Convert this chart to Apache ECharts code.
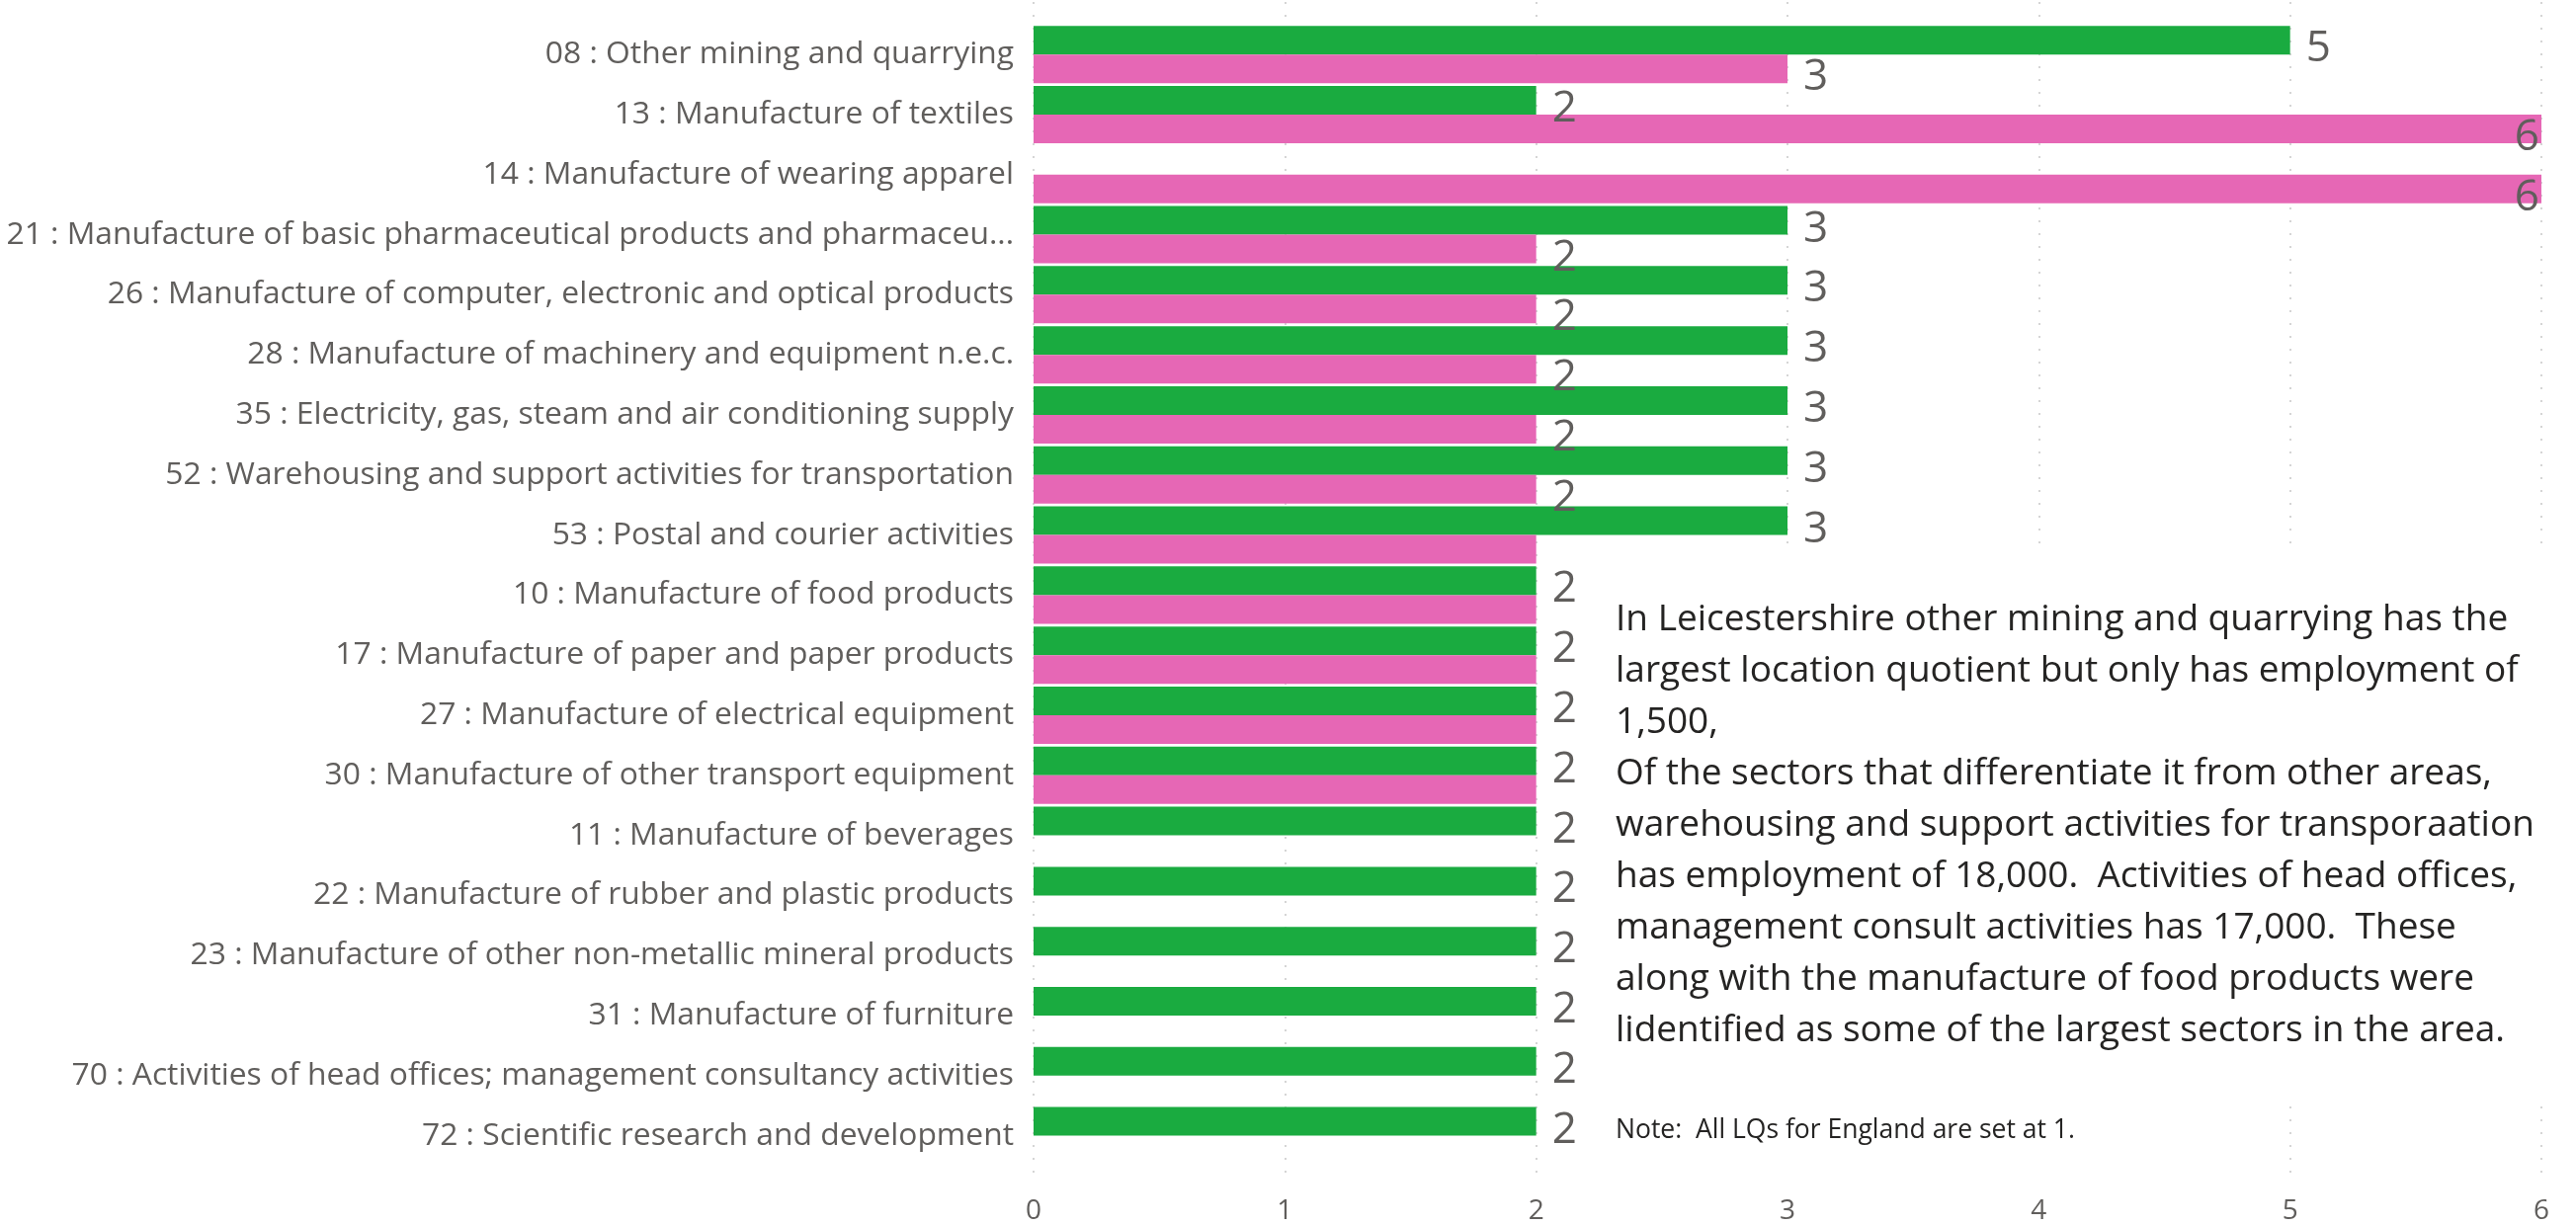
<!DOCTYPE html>
<html>
<head>
<meta charset="utf-8">
<script src="https://cdn.jsdelivr.net/npm/echarts@6/dist/echarts.min.js"></script>
<style>
  html, body { margin: 0; padding: 0; background: #fff; }
  #chart { width: 2607px; height: 1241px; }
</style>
</head>
<body>
<div id="chart"></div>
<script>
// sectors, top to bottom
const sectors = [
  '08 : Other mining and quarrying',
  '13 : Manufacture of textiles',
  '14 : Manufacture of wearing apparel',
  '21 : Manufacture of basic pharmaceutical products and pharmaceu...',
  '26 : Manufacture of computer, electronic and optical products',
  '28 : Manufacture of machinery and equipment n.e.c.',
  '35 : Electricity, gas, steam and air conditioning supply',
  '52 : Warehousing and support activities for transportation',
  '53 : Postal and courier activities',
  '10 : Manufacture of food products',
  '17 : Manufacture of paper and paper products',
  '27 : Manufacture of electrical equipment',
  '30 : Manufacture of other transport equipment',
  '11 : Manufacture of beverages',
  '22 : Manufacture of rubber and plastic products',
  '23 : Manufacture of other non-metallic mineral products',
  '31 : Manufacture of furniture',
  '70 : Activities of head offices; management consultancy activities',
  '72 : Scientific research and development'
]
// location quotients (green / pink series)
const greenLQ = [5, 2, null, 3, 3, 3, 3, 3, 3, 2, 2, 2, 2, 2, 2, 2, 2, 2, 2]
const pinkLQ = [3, 6, 6, 2, 2, 2, 2, 2, 2, 2, 2, 2, 2, null, null, null, null, null, null]
const xTicks = [0, 1, 2, 3, 4, 5, 6]

const noteText = [
  'In Leicestershire other mining and quarrying has the',
  'largest location quotient but only has employment of',
  '1,500,',
  'Of the sectors that differentiate it from other areas,',
  'warehousing and support activities for transporaation',
  'has employment of 18,000.  Activities of head offices,',
  'management consult activities has 17,000.  These',
  'along with the manufacture of food products were',
  'lidentified as some of the largest sectors in the area.'
].join('\n')
const footNote = 'Note:  All LQs for England are set at 1.'

const FONT = "'Segoe UI', 'Open Sans', sans-serif"
const GREY = '#605E5C'

const chart = echarts.init(document.getElementById('chart'))

function barLabel (pos) {
  return {
    show: true,
    position: pos,
    distance: 16,
    color: GREY,
    fontFamily: FONT,
    fontSize: 44,
    formatter (p) {
      return p.value == null ? '' : p.value
    }
  }
}

function seriesData (values) {
  return values.map(v => {
    if (v == null) return null
    if (v >= xTicks[xTicks.length - 1]) {
      return { value: v, label: { position: 'insideRight', distance: 2 } }
    }
    return v
  })
}

chart.setOption({
  backgroundColor: '#fff',
  animation: false,
  grid: [
    { left: 1046, right: 35, top: 2, bottom: 45 },
    { left: 1046, right: 35, top: 24.75, bottom: 61 }
  ],
  xAxis: [{
    gridIndex: 0,
    type: 'value',
    min: xTicks[0],
    max: xTicks[xTicks.length - 1],
    interval: 1,
    axisLine: { show: false },
    axisTick: { show: false },
    axisLabel: {
      color: GREY,
      fontFamily: FONT,
      fontSize: 28,
      margin: 16
    },
    splitLine: {
      show: true,
      lineStyle: { color: '#c8c8c8', width: 1.5, type: [2, 11] }
    }
  }, {
    gridIndex: 1,
    type: 'value',
    min: xTicks[0],
    max: xTicks[xTicks.length - 1],
    show: false
  }],
  yAxis: [{
    gridIndex: 0,
    type: 'value',
    show: false
  }, {
    gridIndex: 1,
    type: 'category',
    inverse: true,
    data: sectors,
    axisLine: { show: false },
    axisTick: { show: false },
    splitLine: { show: false },
    axisLabel: {
      color: GREY,
      fontFamily: FONT,
      fontSize: 31.8,
      margin: 20
    }
  }],
  series: [
    {
      name: 'Leicestershire',
      type: 'bar',
      xAxisIndex: 1,
      yAxisIndex: 1,
      data: seriesData(greenLQ),
      itemStyle: { color: '#1AAB40' },
      barGap: '0%',
      barCategoryGap: '4.6%',
      label: barLabel('right'),
      labelLayout: { hideOverlap: true, dy: 9 }
    },
    {
      name: 'Comparator',
      type: 'bar',
      xAxisIndex: 1,
      yAxisIndex: 1,
      data: seriesData(pinkLQ),
      itemStyle: { color: '#E667B5' },
      barGap: '0%',
      barCategoryGap: '4.6%',
      label: barLabel('right'),
      labelLayout: { hideOverlap: true, dy: 9 }
    }
  ],
  graphic: [
    {
      type: 'rect',
      z: 10,
      shape: { x: 1605, y: 550, width: 1002, height: 560 },
      style: { fill: '#fff' }
    },
    {
      type: 'rect',
      z: 10,
      shape: { x: 1605, y: 1110, width: 605, height: 86 },
      style: { fill: '#fff' }
    },
    {
      type: 'text',
      z: 11,
      x: 1635,
      y: 601,
      style: {
        text: noteText,
        fill: '#252423',
        fontFamily: FONT,
        fontSize: 37,
        lineHeight: 52,
        verticalAlign: 'top'
      }
    },
    {
      type: 'text',
      z: 11,
      x: 1635,
      y: 1128,
      style: {
        text: footNote,
        fill: '#252423',
        fontFamily: FONT,
        fontSize: 26.5,
        lineHeight: 32,
        verticalAlign: 'top'
      }
    }
  ]
})
</script>
</body>
</html>
